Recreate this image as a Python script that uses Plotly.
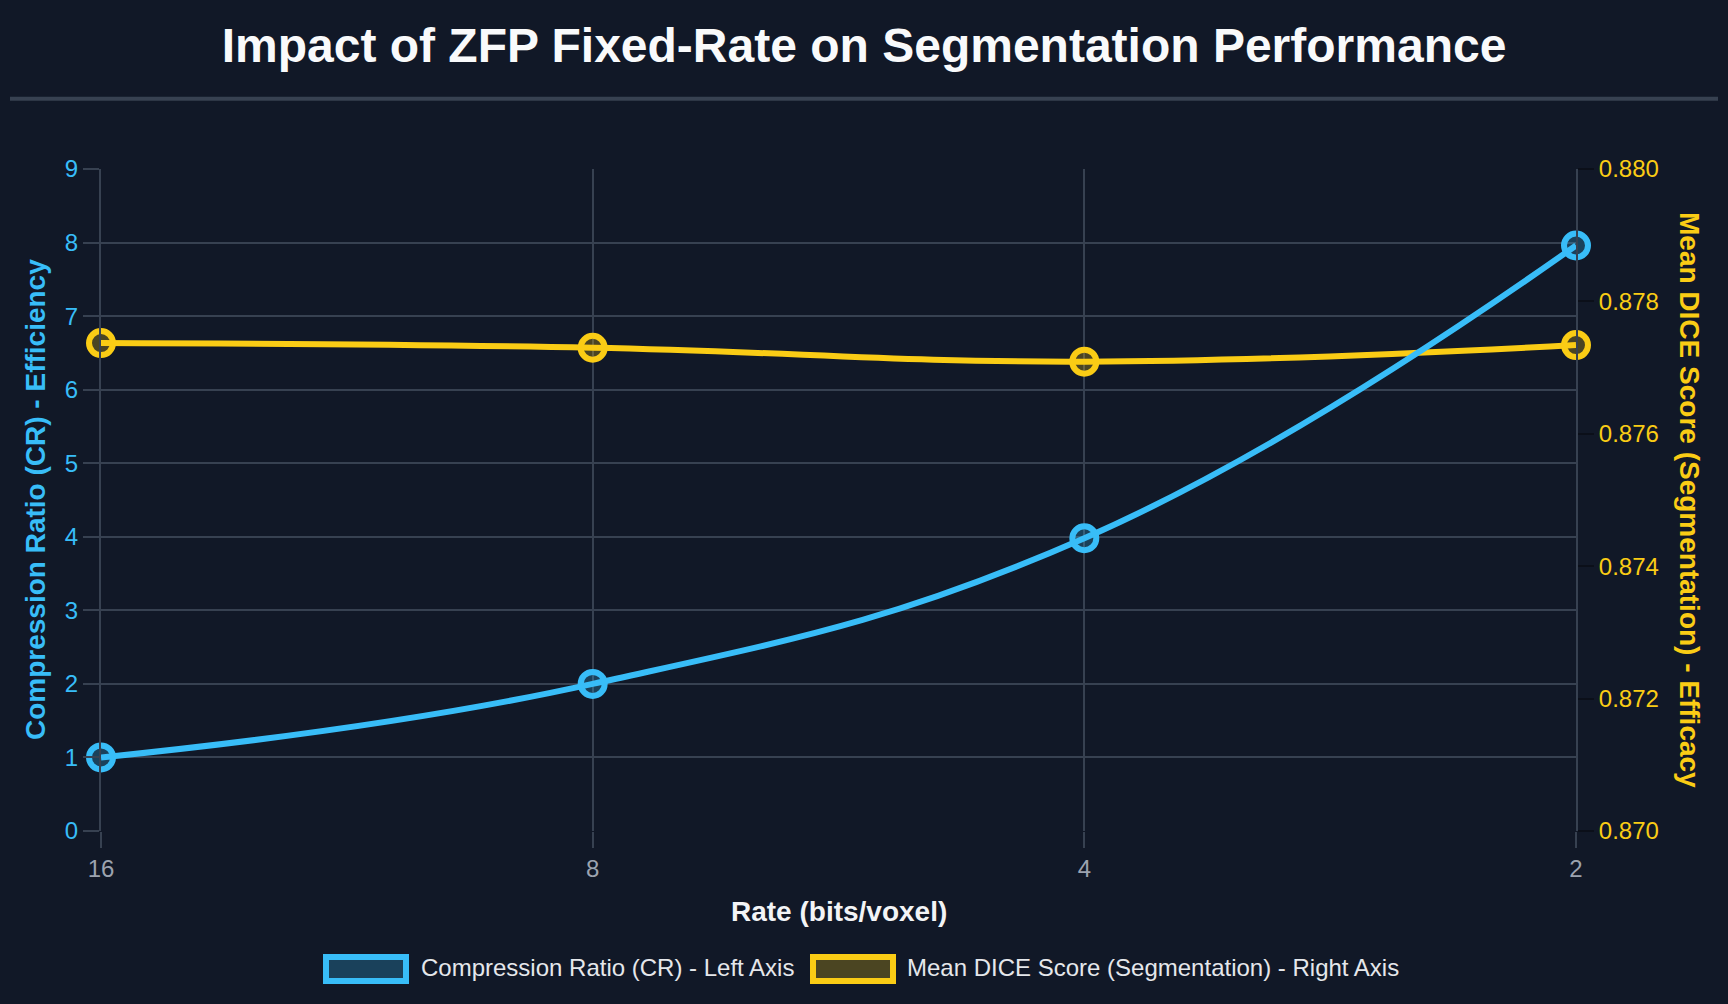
import plotly.graph_objects as go

# ---------------- data ----------------
rates = ["16", "8", "4", "2"]
compression_ratio = [1.0, 2.0, 3.98, 7.96]
mean_dice = [0.87737, 0.87730, 0.87709, 0.87734]
cr_tick_values = [0, 1, 2, 3, 4, 5, 6, 7, 8, 9]
dice_tick_values = [0.870, 0.872, 0.874, 0.876, 0.878, 0.880]
series_names = ["Compression Ratio (CR) - Left Axis",
                "Mean DICE Score (Segmentation) - Right Axis"]
title_text = "Impact of ZFP Fixed-Rate on Segmentation Performance"
x_title = "Rate (bits/voxel)"
cr_title = "Compression Ratio (CR) - Efficiency"
dice_title = "Mean DICE Score (Segmentation) - Efficacy"

# ---------------- style ----------------
W, H = 1728, 1004
L, R, T, B = 101, 152, 169, 173
PW, PH = W - L - R, H - T - B
BG = "#111827"
GRID = "#374151"
BLUE = "#38bdf8"
YELLOW = "#facc15"
BLUE_FILL = "rgba(56,189,248,0.25)"
YELLOW_FILL = "rgba(250,204,21,0.25)"
FONT = "Liberation Sans, Arial, Helvetica, sans-serif"


def px(x):
    return (x - L) / PW


def py(y):
    return (H - B - y) / PH


fig = go.Figure()

# DICE on main axis (right side) so that CR (overlay) is drawn on top
fig.add_trace(go.Scatter(
    x=rates, y=mean_dice, name=series_names[1], yaxis="y",
    mode="lines+markers", cliponaxis=False,
    line=dict(color=YELLOW, width=6, shape="spline", smoothing=1.2),
    marker=dict(size=24, color=YELLOW_FILL, line=dict(color=YELLOW, width=6)),
    showlegend=False,
))
fig.add_trace(go.Scatter(
    x=rates, y=compression_ratio, name=series_names[0], yaxis="y2",
    mode="lines+markers", cliponaxis=False,
    line=dict(color=BLUE, width=6, shape="spline", smoothing=1.2),
    marker=dict(size=24, color=BLUE_FILL, line=dict(color=BLUE, width=6)),
    showlegend=False,
))

fig.update_layout(
    width=W, height=H,
    margin=dict(l=L, r=R, t=T, b=B, pad=0),
    paper_bgcolor=BG, plot_bgcolor=BG,
    font=dict(family=FONT),
    title=dict(text=title_text, x=0.5, xref="container", xanchor="center",
               y=1 - 45 / H, yref="container", yanchor="middle",
               font=dict(size=48, color="#f9fafb", family=FONT, weight="bold")),
    xaxis=dict(
        type="category", range=[0, 3],
        showgrid=True, gridcolor=GRID, gridwidth=2,
        showline=False, zeroline=False,
        ticks="outside", ticklen=16, tickwidth=2, tickcolor=GRID,
        tickfont=dict(size=24, color="#9ca3af", family=FONT),
    ),
    yaxis=dict(
        side="right", range=[0.870, 0.880],
        tickvals=dice_tick_values, tickformat=".3f",
        showgrid=False, zeroline=False,
        showline=True, linecolor=GRID, linewidth=2,
        ticks="outside", ticklen=16, tickwidth=2, tickcolor="#0b0f19",
        tickfont=dict(size=24, color=YELLOW, family=FONT),
    ),
    yaxis2=dict(
        overlaying="y", side="left", range=[0, 9],
        tickvals=cr_tick_values,
        showgrid=True, gridcolor=GRID, gridwidth=2,
        zeroline=False, showline=True, linecolor=GRID, linewidth=2,
        ticks="outside", ticklen=16, tickwidth=2, tickcolor=GRID,
        tickfont=dict(size=24, color=BLUE, family=FONT),
    ),
)

# separator under title
fig.add_shape(type="line", xref="paper", yref="paper",
              x0=px(10), x1=px(1718), y0=py(98.7), y1=py(98.7),
              line=dict(color=GRID, width=4))

annotations = [
    dict(text=x_title, x=px(839), y=py(911), xanchor="center", yanchor="middle",
         font=dict(size=28, color="#f3f4f6", family=FONT, weight="bold")),
    dict(text=cr_title, x=px(35), y=py(500), textangle=-90,
         xanchor="center", yanchor="middle",
         font=dict(size=28, color=BLUE, family=FONT, weight="bold")),
    dict(text=dice_title, x=px(1690), y=py(500), textangle=90,
         xanchor="center", yanchor="middle",
         font=dict(size=28, color=YELLOW, family=FONT, weight="bold")),
]

# manual legend (box + label)
legend_items = [
    (series_names[0], BLUE, BLUE_FILL, 326, 419),
    (series_names[1], YELLOW, YELLOW_FILL, 813, 905),
]
for name, col, fill, bx, tx in legend_items:
    fig.add_shape(type="rect", xref="paper", yref="paper",
                  x0=px(bx), x1=px(bx + 80), y0=py(957), y1=py(981),
                  line=dict(color=col, width=6), fillcolor=fill)
    annotations.append(dict(text=name, x=px(tx), y=py(967), xanchor="left",
                            yanchor="middle",
                            font=dict(size=24, color="#e5e7eb", family=FONT)))

for a in annotations:
    a.update(xref="paper", yref="paper", showarrow=False)
fig.update_layout(annotations=annotations)

fig.write_html("out.html",
               config={"displayModeBar": False},
               post_script="document.body.style.margin='0';document.body.style.overflow='hidden';")
